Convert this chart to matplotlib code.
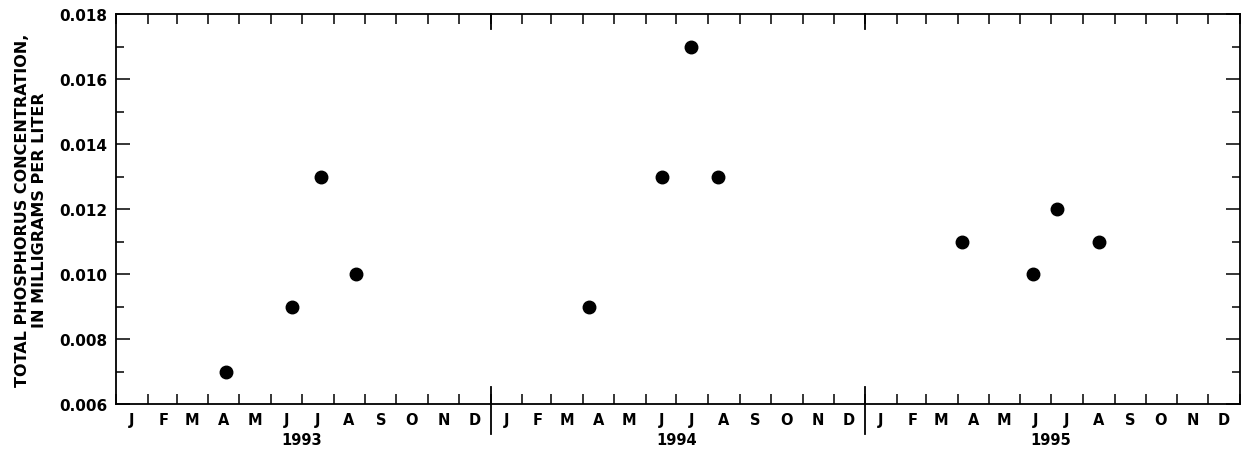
import numpy as np
import matplotlib.pyplot as plt
import matplotlib.dates as mdates
import matplotlib.transforms as mtransforms
from datetime import date

plt.rcParams['font.family'] = ['DejaVu Sans']
plt.rcParams['font.weight'] = 'bold'

# sample dates and total phosphorus (mg/L)
sample_dates = ['1993-04-18', '1993-06-21', '1993-07-20', '1993-08-23',
                '1994-04-07', '1994-06-17', '1994-07-15', '1994-08-10',
                '1995-04-05', '1995-06-13', '1995-07-07', '1995-08-17']
phosphorus = [0.007, 0.009, 0.013, 0.010,
              0.009, 0.013, 0.017, 0.013,
              0.011, 0.010, 0.012, 0.011]
years = [1993, 1994, 1995]
month_letters = ['J', 'F', 'M', 'A', 'M', 'J', 'J', 'A', 'S', 'O', 'N', 'D']

x = mdates.datestr2num(sample_dates)

fig = plt.figure(figsize=(12.44, 4.6), dpi=100)
ax = fig.add_axes([116/1244, 1-405/460, 1124/1244, 390/460])

ax.plot(x, phosphorus, 'o', color='black', markersize=9, clip_on=False)

ax.set_xlim(mdates.date2num(date(years[0], 1, 1)), mdates.date2num(date(years[-1] + 1, 1, 1)))
ax.set_ylim(0.006, 0.018)

# month boundaries as major ticks, labels at mid-month as minor ticks
ax.xaxis.set_major_locator(mdates.MonthLocator())
ax.xaxis.set_major_formatter(plt.NullFormatter())
ax.xaxis.set_minor_locator(mdates.MonthLocator(bymonthday=16))
ax.xaxis.set_minor_formatter(plt.FuncFormatter(
    lambda v, p: month_letters[mdates.num2date(v).month - 1]))
ax.tick_params(axis='x', which='major', direction='in', top=True, length=7, width=1.1)
ax.tick_params(axis='x', which='minor', length=0, labelsize=10.5, pad=6)

ax.set_yticks(np.arange(0.006, 0.0181, 0.002))
ax.set_yticks(np.arange(0.007, 0.018, 0.002), minor=True)
ax.yaxis.set_major_formatter(plt.FormatStrFormatter('%.3f'))
ax.tick_params(axis='y', which='major', direction='in', right=True, length=10, width=1.1,
               labelsize=11, pad=6)
ax.tick_params(axis='y', which='minor', direction='in', right=True, length=6, width=1.1)

for s in ax.spines.values():
    s.set_linewidth(1.3)

# year separators and year labels
trans = mtransforms.blended_transform_factory(ax.transData, ax.transAxes)
for yr in years[1:]:
    xv = mdates.date2num(date(yr, 1, 1))
    ax.plot([xv, xv], [-0.077, 0.044], color='black', lw=1.3, transform=trans, clip_on=False)
    ax.plot([xv, xv], [1, 1 - 15/390], color='black', lw=1.3, transform=trans, clip_on=False)
for yr in years:
    ax.text(mdates.date2num(date(yr, 7, 1)), -0.092, str(yr), transform=trans,
            ha='center', va='center', fontsize=10.5)

ax.set_ylabel('TOTAL PHOSPHORUS CONCENTRATION,\nIN MILLIGRAMS PER LITER',
              fontsize=11.5, fontweight='bold', linespacing=1.2, labelpad=9)

fig.savefig('out.png', dpi=100)
